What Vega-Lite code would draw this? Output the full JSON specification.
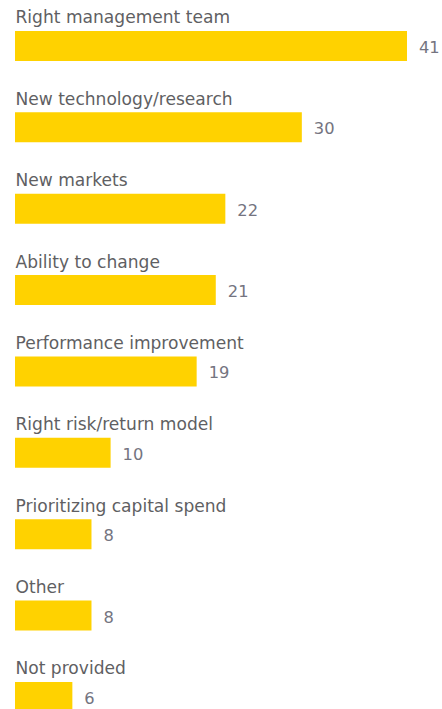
{
  "$schema": "https://vega.github.io/schema/vega-lite/v6.json",
  "width": 392,
  "height": {"step": 81.375},
  "padding": {"left": 15, "top": 0, "right": 0, "bottom": 0},
  "background": "white",
  "config": {"view": {"stroke": null}},
  "data": {
    "values": [
      {"label": "Right management team", "value": 41},
      {"label": "New technology/research", "value": 30},
      {"label": "New markets", "value": 22},
      {"label": "Ability to change", "value": 21},
      {"label": "Performance improvement", "value": 19},
      {"label": "Right risk/return model", "value": 10},
      {"label": "Prioritizing capital spend", "value": 8},
      {"label": "Other", "value": 8},
      {"label": "Not provided", "value": 6}
    ]
  },
  "encoding": {
    "y": {
      "field": "label",
      "type": "nominal",
      "sort": null,
      "axis": null,
      "scale": {"paddingInner": 0, "paddingOuter": 0.065}
    }
  },
  "layer": [
    {
      "mark": {"type": "bar", "color": "#FFD200", "height": 30},
      "encoding": {
        "x": {"field": "value", "type": "quantitative", "axis": null, "scale": {"domain": [0, 41], "nice": false, "zero": true}}
      }
    },
    {
      "mark": {"type": "text", "align": "left", "baseline": "middle", "dx": 12, "dy": 2, "font": "DejaVu Sans", "fontSize": 16.3, "color": "#747480"},
      "encoding": {
        "x": {"field": "value", "type": "quantitative"},
        "text": {"field": "value", "type": "quantitative"}
      }
    },
    {
      "mark": {"type": "text", "align": "left", "baseline": "middle", "x": 0.5, "dy": -27.5, "font": "DejaVu Sans", "fontSize": 17.1, "color": "#5f5f63"},
      "encoding": {
        "text": {"field": "label", "type": "nominal"}
      }
    }
  ]
}
